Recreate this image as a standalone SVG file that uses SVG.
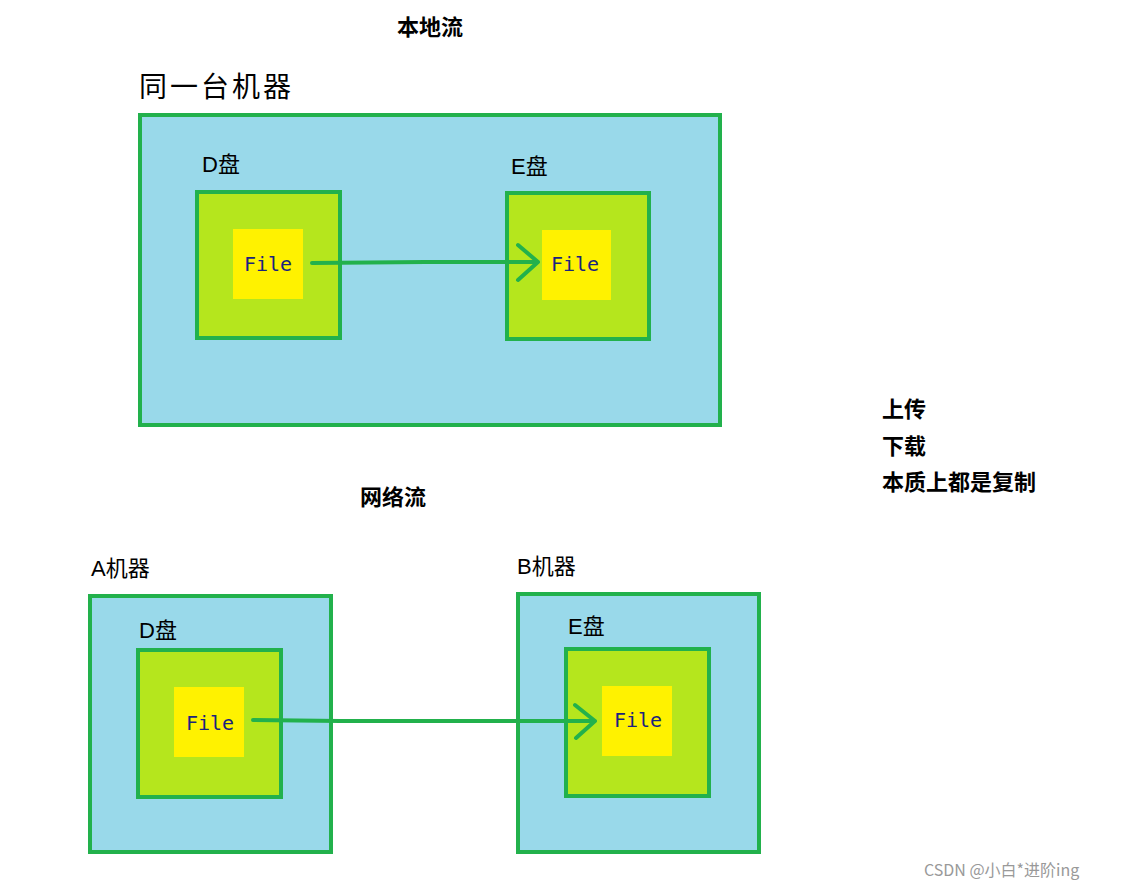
<svg xmlns="http://www.w3.org/2000/svg" width="1128" height="889" viewBox="0 0 1128 889">
<style>
.outer{fill:#99d9ea;stroke:#22b14c;stroke-width:4}
.disk{fill:#b5e61d;stroke:#22b14c;stroke-width:4}
.file{fill:#fff200}
.ft{font-family:"DejaVu Sans Mono","Liberation Mono",monospace;font-size:20px;fill:#1a237e}
.lb{font-family:"Liberation Sans","Noto Sans CJK SC",sans-serif;font-size:22px;fill:#000}
.bd{font-family:"Noto Sans CJK SC",sans-serif;font-size:22px;font-weight:bold;fill:#000}
.ln{stroke:#22b14c;stroke-width:4;fill:none;stroke-linecap:round;stroke-linejoin:round}
</style>
<rect width="1128" height="889" fill="#fff"/>
<text class="bd" x="397" y="35">本地流</text>
<text class="lb" x="139" y="97" style="font-size:28px;letter-spacing:3px">同一台机器</text>
<g id="machine1"><rect class="outer" x="140" y="115" width="580" height="310"/></g>
<g id="d1"><rect class="disk" x="197" y="192" width="143" height="146"/><text class="lb" x="202" y="172">D盘</text></g>
<g id="f1"><rect class="file" x="233" y="229" width="70" height="70"/><text class="ft" x="244" y="271">File</text></g>
<g id="e1"><rect class="disk" x="507" y="193" width="142" height="146"/><text class="lb" x="511" y="174">E盘</text></g>
<g id="f2"><rect class="file" x="542" y="230" width="69" height="70"/><text class="ft" x="551" y="271">File</text></g>
<g id="t2"><text class="bd" x="882" y="417">上传</text><text class="bd" x="882" y="454">下载</text><text class="bd" x="882" y="490">本质上都是复制</text></g>
<text class="bd" x="360" y="505">网络流</text>
<g id="A"><rect class="outer" x="90" y="596" width="241" height="256"/><text class="lb" x="91" y="576">A机器</text></g>
<g id="d2"><rect class="disk" x="138" y="650" width="143" height="147"/><text class="lb" x="139" y="638">D盘</text></g>
<g id="f3"><rect class="file" x="174" y="687" width="70" height="70"/><text class="ft" x="186" y="730">File</text></g>
<g id="B"><rect class="outer" x="518" y="594" width="241" height="258"/><text class="lb" x="517" y="574">B机器</text></g>
<g id="e2"><rect class="disk" x="566" y="649" width="143" height="147"/><text class="lb" x="568" y="634">E盘</text></g>
<g id="f4"><rect class="file" x="602" y="686" width="70" height="70"/><text class="ft" x="614" y="727">File</text></g>
<g id="connectors">
<path class="ln" d="M312,263 L425,262 L538,262 M518,245 L538,262 L518,280"/>
<path class="ln" d="M253,720 L340,721 L595,721 M575,705 L595,721 L576,738"/>
</g>
<text x="924" y="876" style="font-family:'Noto Sans CJK SC',sans-serif;font-size:16px;fill:#999">CSDN @小白*进阶ing</text>
</svg>
